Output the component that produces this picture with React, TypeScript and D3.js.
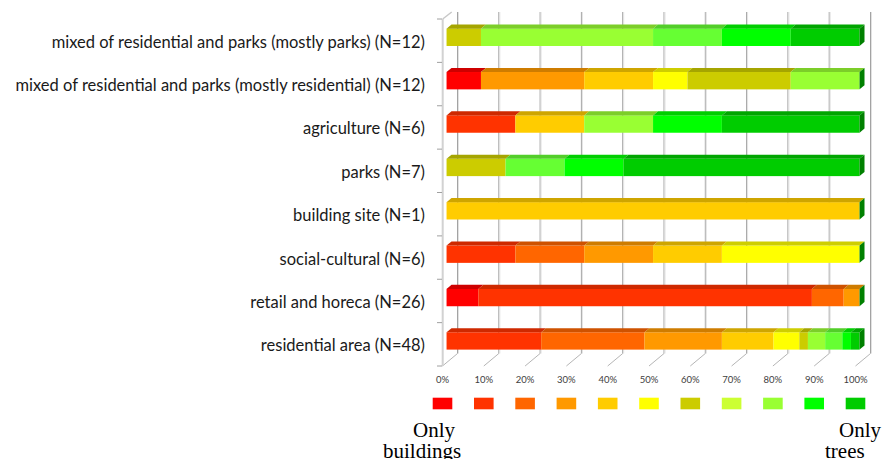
import React from 'react';
import * as d3 from 'd3';

// categories, top to bottom as they appear
const categories = [
  'mixed of residential and parks (mostly parks) (N=12)',
  'mixed of residential and parks (mostly residential) (N=12)',
  'agriculture (N=6)',
  'parks (N=7)',
  'building site (N=1)',
  'social-cultural (N=6)',
  'retail and horeca (N=26)',
  'residential area (N=48)'
];

// 11 classes, from only buildings (1) to only trees (11)
const classes = ['1', '2', '3', '4', '5', '6', '7', '8', '9', '10', '11'];

// number of sites per class, per category (same order as categories)
const mostlyParks = [0, 0, 0, 0, 0, 0, 1, 5, 2, 2, 2];
const mostlyResidential = [1, 0, 0, 3, 2, 1, 3, 2, 0, 0, 0];
const agriculture = [0, 1, 0, 0, 1, 0, 0, 1, 0, 1, 2];
const parks = [0, 0, 0, 0, 0, 0, 1, 0, 1, 1, 4];
const buildingSite = [0, 0, 0, 0, 1, 0, 0, 0, 0, 0, 0];
const socialCultural = [0, 1, 1, 1, 1, 2, 0, 0, 0, 0, 0];
const retail = [2, 21, 2, 1, 0, 0, 0, 0, 0, 0, 0];
const residential = [0, 11, 12, 9, 6, 3, 1, 2, 2, 1, 1];

const counts = [mostlyParks, mostlyResidential, agriculture, parks, buildingSite, socialCultural, retail, residential];

const barColors = ['#FF0000', '#FF3300', '#FF6600', '#FF9900', '#FFCC00', '#FFFF00', '#CCCC00', '#99FF33', '#66FF33', '#00FF00', '#00CC00'];
const legendColors = ['#FF0000', '#FF3300', '#FF6600', '#FF9900', '#FFCC00', '#FFFF00', '#CCCC00', '#CCFF33', '#99FF33', '#00FF00', '#00CC00'];

const ticks = [0, 0.1, 0.2, 0.3, 0.4, 0.5, 0.6, 0.7, 0.8, 0.9, 1];

export default function App(): JSX.Element {
  const W = 885;
  const H = 459;

  // front plane of the 3d box
  const x = d3.scaleLinear().domain([0, 1]).range([442.5, 855.5]);
  const y = d3.scaleBand().domain(categories).range([19, 366]).paddingInner(0.6).paddingOuter(0.3);
  const bw = y.bandwidth();

  // depth direction (front -> back wall)
  const DX = 15;
  const DY = -12.5;
  const f0 = 0.27;
  const f1 = 0.6;
  const bx = DX * (f1 - f0);
  const by = DY * (f1 - f0);

  const rows = categories.map((c, i) => {
    const o: any = { cat: c };
    classes.forEach((k, j) => (o[k] = counts[i][j]));
    return o;
  });
  const series = d3.stack().keys(classes).offset(d3.stackOffsetExpand)(rows);
  const colorOf = d3.scaleOrdinal<string, string>().domain(classes).range(barColors);
  const dark = (c: string, k: number) => d3.color(c)!.darker(k).formatHex();

  const fmt = d3.format('.0%');
  const backTop = 12;
  const backBottom = 366 + DY;

  return (
    <svg width={W} height={H} style={{ position: 'absolute', left: 0, top: 0, background: '#fff' }}>
      {/* back wall gridlines */}
      {ticks.map((t) => (
        <g key={'g' + t}>
          <line x1={x(t) + DX} x2={x(t) + DX} y1={backTop} y2={backBottom} stroke="#a3a3a3" strokeWidth={1} />
          <line x1={x(t) + DX + 1} x2={x(t) + DX + 1} y1={backTop} y2={backBottom} stroke="#e2e2e2" strokeWidth={1} />
          <line x1={x(t) + DX} x2={x(t)} y1={backBottom} y2={366} stroke="#b5b5b5" strokeWidth={1} />
        </g>
      ))}
      {/* left wall edges */}
      <line x1={442.7} x2={451.7} y1={19} y2={12} stroke="#c8c8c8" strokeWidth={1.5} />
      <line x1={442.7} x2={442.7} y1={19} y2={366} stroke="#d2d2d2" strokeWidth={2} />
      {y.domain().map((c, i) => (
        <line key={'t' + i} x1={437} x2={442} y1={y(c)! - y.step() * 0.3} y2={y(c)! - y.step() * 0.3} stroke="#a0a0a0" />
      ))}
      <line x1={437} x2={442} y1={366} y2={366} stroke="#a0a0a0" />

      {/* bars */}
      {series.map((s) =>
        s.map((d, i) => {
          const cat = categories[i];
          const x0 = x(d[0]) + DX * f0;
          const x1 = x(d[1]) + DX * f0;
          const yt = y(cat)! + DY * f0;
          if (x1 - x0 <= 0) return null;
          const col = colorOf(s.key);
          return (
            <g key={s.key + '-' + i}>
              <rect x={x0} y={yt} width={x1 - x0} height={bw} fill={col} />
              <polygon
                points={`${x0},${yt} ${x0 + bx},${yt + by} ${x1 + bx},${yt + by} ${x1},${yt}`}
                fill={dark(col, 0.6)}
              />
            </g>
          );
        })
      )}
      {/* bar end faces */}
      {categories.map((cat) => {
        const xe = x(1) + DX * f0;
        const yt = y(cat)! + DY * f0;
        return (
          <polygon
            key={'e' + cat}
            points={`${xe},${yt} ${xe + bx},${yt + by} ${xe + bx},${yt + by + bw} ${xe},${yt + bw}`}
            fill={dark(barColors[barColors.length - 1], 1.3)}
          />
        );
      })}

      {/* category labels */}
      {categories.map((c) => (
        <text
          key={'l' + c}
          x={425}
          y={y(c)! + bw / 2 + 1}
          textAnchor="end"
          dominantBaseline="central"
          fontFamily="Lato, 'Open Sans', sans-serif"
          fontSize={16.5}
          fill="#1a1a1a"
        >
          {c}
        </text>
      ))}

      {/* x tick labels */}
      {ticks.map((t) => (
        <text key={'x' + t} x={x(t)} y={379} textAnchor="middle" dominantBaseline="central" fontFamily="Lato, sans-serif" fontSize={9.5} fill="#404040">
          {fmt(t)}
        </text>
      ))}

      {/* legend */}
      {ticks.map((t, i) => (
        <rect key={'s' + t} x={x(t) - 9.8} y={397.7} width={19.6} height={11.6} fill={legendColors[i]} />
      ))}
      <g fontFamily="'Liberation Serif', 'Times New Roman', serif" fontSize={21} fill="#000">
        <text x={413} y={437}>Only</text>
        <text x={383} y={458}>buildings</text>
        <text x={839} y={437}>Only</text>
        <text x={825} y={458}>trees</text>
      </g>
    </svg>
  );
}
